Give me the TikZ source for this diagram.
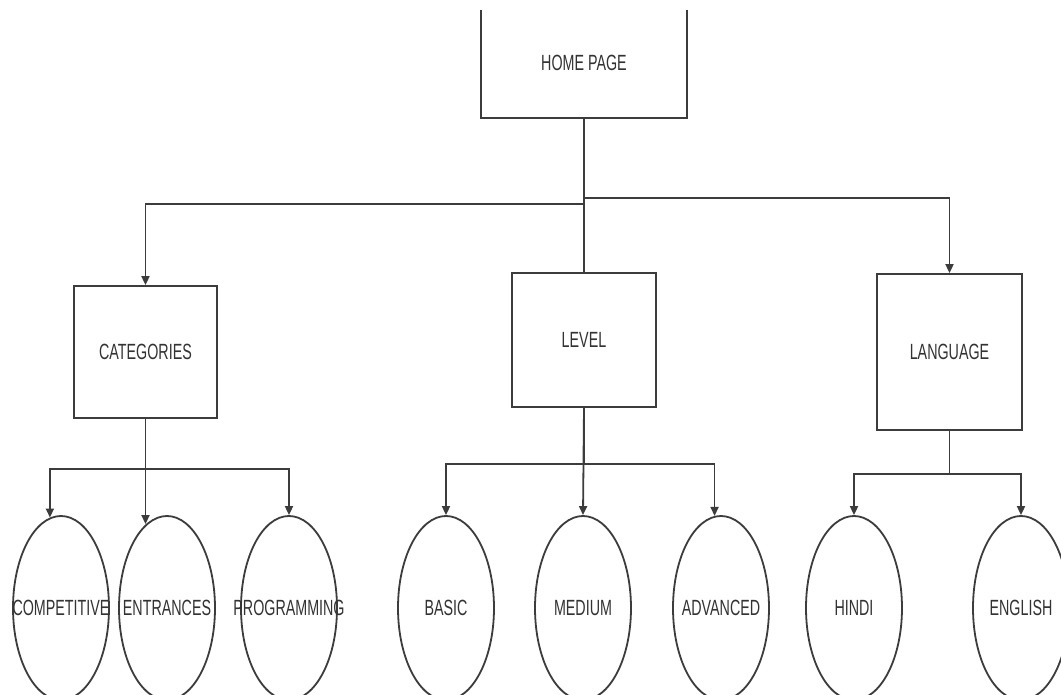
\documentclass[tikz,border=0pt]{standalone}
\usepackage{fontspec}
\setmainfont{Liberation Sans}
\newfontfamily\cond[FakeStretch=0.65]{Liberation Sans}
\usetikzlibrary{arrows.meta,shapes.geometric}
\definecolor{ln}{RGB}{60,60,60}
\newcommand{\zw}[1]{\makebox[0pt]{#1}}
\begin{document}
\begin{tikzpicture}[x=1pt,y=-1pt,
  lbl/.style={text=black!80,font=\cond\fontsize{22}{24}\selectfont,inner sep=0pt},
  box/.style={lbl,draw=ln,line width=1.8pt},
  oval/.style={lbl,draw=ln,line width=1.8pt,ellipse,minimum width=96pt,minimum height=184pt},
  conn/.style={draw=ln,line width=1.8pt},
  arr/.style={conn,-{Triangle[width=8pt,length=9pt]}}]
\useasboundingbox (0,0) rectangle (1061,695);
\fill[white] (0,0) rectangle (1061,695);
\begin{scope}
  \clip (0,11) rectangle (1061,695);
  \node[box,minimum width=206pt,minimum height=110pt] (home) at (584,63) {HOME PAGE};
\end{scope}
\node[box,minimum width=143pt,minimum height=132pt] (cat) at (145.5,352) {CATEGORIES};
\node[box,minimum width=144pt,minimum height=134pt] (level) at (584,340) {LEVEL};
\node[box,minimum width=145pt,minimum height=156pt] (lang) at (949.5,352) {LANGUAGE};
\node[oval] (comp) at (61,608) {\zw{COMPETITIVE}};
\node[oval] (ent) at (167,608) {\zw{ENTRANCES}};
\node[oval] (prog) at (289,608) {\zw{PROGRAMMING}};
\node[oval] (basic) at (446,608) {\zw{BASIC}};
\node[oval] (med) at (583,608) {\zw{MEDIUM}};
\node[oval] (adv) at (721,608) {\zw{ADVANCED}};
\node[oval] (hindi) at (854,608) {\zw{HINDI}};
\node[oval] (eng) at (1021,608) {\zw{ENGLISH}};
% top level
\draw[conn] (home.south) -- (level.north);
\draw[arr] (home.south) -- ++(0,85) -| (cat.north);
\draw[arr] (home.south) -- ++(0,79) -| (lang.north);
% categories
\draw[arr] (cat.south) -- (cat.south |- ent.104);
\draw[arr] (cat.south) -- ++(0,50) -| (comp.97);
\draw[arr] (cat.south) -- ++(0,50) -| (prog.north);
% level
\draw[arr] (level.south) -- (med.north);
\draw[arr] (level.south) -- ++(0,56) -| (basic.north);
\draw[arr] (level.south) -- ++(0,56) -| (adv.94);
% language
\draw[arr] (lang.south) -- ++(0,43) -| (hindi.north);
\draw[arr] (lang.south) -- ++(0,43) -| (eng.north);
\end{tikzpicture}
\end{document}
